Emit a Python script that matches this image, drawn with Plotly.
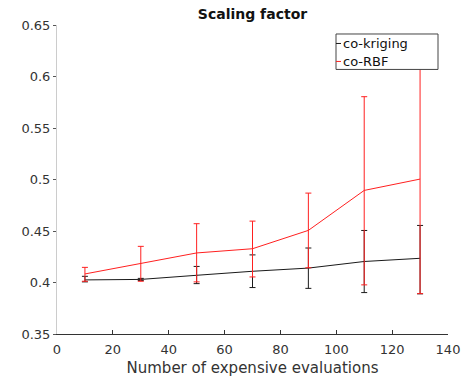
import plotly.graph_objects as go

# Number of expensive evaluations
evals = [10, 30, 50, 70, 90, 110, 130]

# co-kriging: mean scaling factor and error-bar bounds
kriging_mean = [0.4025, 0.4030, 0.4070, 0.4109, 0.4140, 0.4204, 0.4235]
kriging_low = [0.4006, 0.4020, 0.3989, 0.3951, 0.3943, 0.3902, 0.3890]
kriging_high = [0.4060, 0.4040, 0.4156, 0.4268, 0.4335, 0.4505, 0.4554]

# co-RBF: mean scaling factor and error-bar bounds
rbf_mean = [0.4083, 0.4186, 0.4287, 0.4328, 0.4506, 0.4894, 0.5004]
rbf_low = [0.4012, 0.4012, 0.4006, 0.4054, 0.4143, 0.3977, 0.3892]
rbf_high = [0.4147, 0.4351, 0.4571, 0.4596, 0.4868, 0.5804, 0.6150]

series_names = ["co-kriging", "co-RBF"]
series_colors = ["#1a1a1a", "#ff2020"]


def bar_errors(mean, low, high):
    plus = [h - m for m, h in zip(mean, high)]
    minus = [m - l for m, l in zip(mean, low)]
    return plus, minus


FONT = "DejaVu Sans"
W, H = 461, 377
ML, MR, MT, MB = 57, 13, 25, 42.5

fig = go.Figure()

for name, mean, low, high, color in zip(
        series_names,
        [kriging_mean, rbf_mean], [kriging_low, rbf_low], [kriging_high, rbf_high],
        series_colors):
    plus, minus = bar_errors(mean, low, high)
    fig.add_trace(go.Scatter(
        x=evals, y=mean, name=name, mode="lines", showlegend=False,
        line=dict(color=color, width=1),
        error_y=dict(type="data", symmetric=False, array=plus, arrayminus=minus,
                     color=color, thickness=1, width=3),
    ))

# Compact boxed key in the upper right: short stroke + label per series
pw, ph = W - ML - MR, H - MT - MB


def px_to_paper(x, y):
    return (x - ML) / pw, (H - MB - y) / ph


bx0, by0 = px_to_paper(336, 34)
bx1, by1 = px_to_paper(438, 69.5)
fig.add_shape(type="rect", xref="paper", yref="paper", x0=bx0, y0=by1, x1=bx1, y1=by0,
              fillcolor="white", line=dict(color="#444444", width=1), layer="above")
for i, (name, color) in enumerate(zip(series_names, series_colors)):
    row_y = 43.5 + i * 18
    sx0, sy = px_to_paper(336, row_y)
    sx1, _ = px_to_paper(341, row_y)
    fig.add_shape(type="line", xref="paper", yref="paper", x0=sx0, y0=sy, x1=sx1, y1=sy,
                  line=dict(color=color, width=1), layer="above")
    fig.add_annotation(xref="paper", yref="paper", x=sx1, y=sy, xanchor="left",
                       yanchor="middle", text=name, showarrow=False, xshift=0,
                       font=dict(family=FONT, size=13, color="#111111"))

fig.update_layout(
    width=W, height=H,
    margin=dict(l=ML, r=MR, t=MT, b=MB),
    paper_bgcolor="white", plot_bgcolor="white",
    font=dict(family=FONT, size=13, color="#333333"),
    title=dict(text="<b>Scaling factor</b>", x=(ML + 448) / 2 / W, xanchor="center",
               y=1 - 14 / H, yanchor="middle",
               font=dict(family=FONT, size=14, color="#111111")),
    showlegend=False,
    xaxis=dict(range=[0, 140], dtick=20, tick0=0, showgrid=False, zeroline=False,
               showline=True, linecolor="#333333", linewidth=1, automargin=False,
               ticks="inside", ticklen=4, tickcolor="#333333", ticklabelstandoff=3,
               title=dict(text="Number of expensive evaluations", standoff=9,
                          font=dict(family=FONT, size=15, color="#333333"))),
    yaxis=dict(range=[0.35, 0.65], dtick=0.05, tick0=0.35, showgrid=False, zeroline=False,
               showline=True, linecolor="#cccccc", linewidth=1, automargin=False,
               ticks="outside", ticklen=3, tickcolor="#555555"),
)

fig.write_html("out.html")
